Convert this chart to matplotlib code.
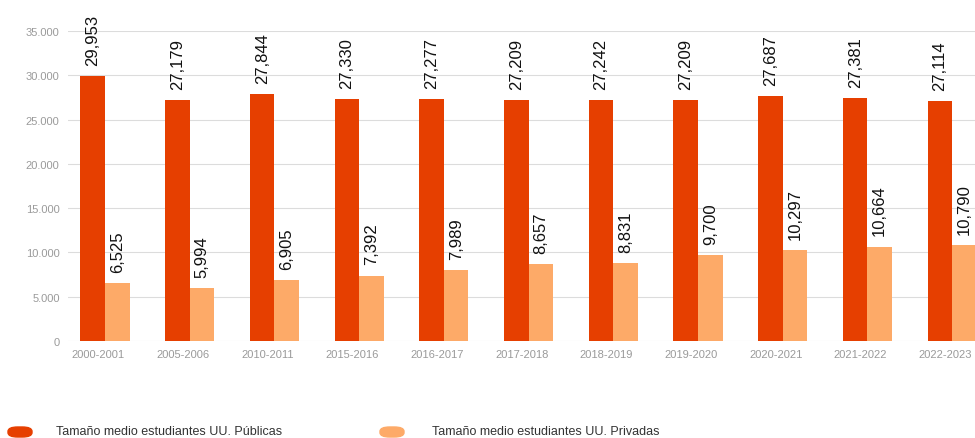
import numpy as np
import matplotlib
matplotlib.use("Agg")
import matplotlib.pyplot as plt
from matplotlib.patches import FancyBboxPatch
from matplotlib.ticker import FuncFormatter

cursos = ["2000-2001", "2005-2006", "2010-2011", "2015-2016", "2016-2017", "2017-2018",
          "2018-2019", "2019-2020", "2020-2021", "2021-2022", "2022-2023"]
publicas = [29953, 27179, 27844, 27330, 27277, 27209, 27242, 27209, 27687, 27381, 27114]
privadas = [6525, 5994, 6905, 7392, 7989, 8657, 8831, 9700, 10297, 10664, 10790]
series_names = ["Tamaño medio estudiantes UU. Públicas",
                "Tamaño medio estudiantes UU. Privadas"]

C_PUB = "#E63F00"
C_PRI = "#FDAA68"

plt.rcParams["font.family"] = ["Liberation Sans", "DejaVu Sans"]

fig = plt.figure(figsize=(9.75, 4.39), dpi=100)
ax = fig.add_axes([68 / 975, 97 / 439, 1 - 68 / 975, 310 / 439])

x = np.arange(len(cursos))
w = 0.29
b1 = ax.bar(x - w / 2, publicas, w, color=C_PUB, zorder=3)
b2 = ax.bar(x + w / 2, privadas, w, color=C_PRI, zorder=3)

for bars, vals in ((b1, publicas), (b2, privadas)):
    for rect, v in zip(bars, vals):
        ax.annotate(f"{v:,}", (rect.get_x() + rect.get_width() / 2, v),
                    xytext=(0, 8), textcoords="offset points",
                    rotation=90, ha="center", va="bottom",
                    fontsize=12, color="#111111", annotation_clip=False)

ax.set_xlim(-0.437, 10.27)
ax.set_ylim(0, 35000)
ax.set_yticks(np.arange(0, 35001, 5000))
ax.yaxis.set_major_formatter(FuncFormatter(lambda v, p: f"{int(v):,}".replace(",", ".")))
ax.set_xticks(x - 0.08)
ax.set_xticklabels(cursos)
ax.tick_params(axis="both", length=0, labelsize=8, colors="#9a9a9a")
ax.tick_params(axis="y", pad=6)
ax.tick_params(axis="x", pad=6)
ax.grid(axis="y", color="#dcdcdc", lw=0.8, zorder=0)
for sp in ax.spines.values():
    sp.set_visible(False)

# legend strip at the bottom
for i, (name, col) in enumerate(zip(series_names, [C_PUB, C_PRI])):
    x0 = [8, 380][i] / 975
    fig.patches.append(FancyBboxPatch((x0, 1 / 439), 24 / 975, 10 / 439,
                                      boxstyle="round,pad=0,rounding_size=0.01",
                                      transform=fig.transFigure, color=col))
    fig.text([56, 432][i] / 975, 7 / 439, name, fontsize=9, color="#333333",
             va="center", ha="left")

fig.savefig("out.png", dpi=100, facecolor="white")
